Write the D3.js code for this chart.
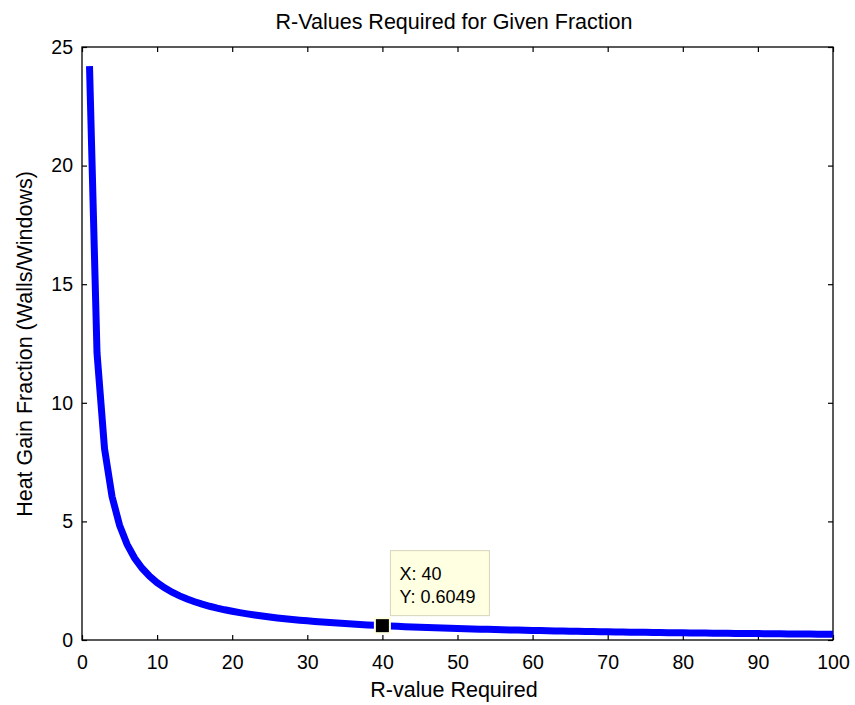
<!DOCTYPE html>
<html>
<head>
<meta charset="utf-8">
<script src="https://cdn.jsdelivr.net/npm/d3@7"></script>
<style>
  html, body { margin: 0; padding: 0; background: #fff; }
  svg text { font-family: "Liberation Sans", Arial, sans-serif; fill: #000; }
</style>
</head>
<body>
<svg id="chart" width="855" height="705"></svg>
<script>
// R-value required (x) and heat gain fraction (y)
const rValues = d3.range(1, 101);
const heatGainFraction = [
  24.196, 12.098, 8.065, 6.049, 4.839, 4.033, 3.457, 3.025, 2.688, 2.420,
  2.200, 2.016, 1.861, 1.728, 1.613, 1.512, 1.423, 1.344, 1.273, 1.210,
  1.152, 1.100, 1.052, 1.008, 0.968, 0.931, 0.896, 0.864, 0.834, 0.807,
  0.781, 0.756, 0.733, 0.712, 0.691, 0.672, 0.654, 0.637, 0.620, 0.6049,
  0.590, 0.576, 0.563, 0.550, 0.538, 0.526, 0.515, 0.504, 0.494, 0.484,
  0.474, 0.465, 0.457, 0.448, 0.440, 0.432, 0.424, 0.417, 0.410, 0.403,
  0.397, 0.390, 0.384, 0.378, 0.372, 0.367, 0.361, 0.356, 0.351, 0.346,
  0.341, 0.336, 0.331, 0.327, 0.323, 0.318, 0.314, 0.310, 0.306, 0.302,
  0.299, 0.295, 0.292, 0.288, 0.285, 0.281, 0.278, 0.275, 0.272, 0.269,
  0.266, 0.263, 0.260, 0.257, 0.255, 0.252, 0.249, 0.247, 0.244, 0.242
];
const xTicks = [0, 10, 20, 30, 40, 50, 60, 70, 80, 90, 100];
const yTicks = [0, 5, 10, 15, 20, 25];
const datatip = { x: 40, y: 0.6049 };

const titleText = "R-Values Required for Given Fraction";
const xLabelText = "R-value Required";
const yLabelText = "Heat Gain Fraction (Walls/Windows)";

const svg = d3.select("#chart");
const plotLeft = 82, plotRight = 833, plotTop = 47, plotBottom = 640;

const x = d3.scaleLinear().domain([0, 100]).range([plotLeft, plotRight]);
const y = d3.scaleLinear().domain([0, 25]).range([plotBottom, plotTop]);

const tickLen = 5;
const tickFont = 19.5;
const labelFont = 21.5;
const fontFamily = '"Liberation Sans", Arial, sans-serif';

// plot frame
svg.append("rect")
  .attr("x", plotLeft).attr("y", plotTop)
  .attr("width", plotRight - plotLeft).attr("height", plotBottom - plotTop)
  .attr("fill", "#fff").attr("stroke", "#000").attr("stroke-width", 1.3);

// bottom / left axes with inward ticks
const gx = svg.append("g").attr("transform", `translate(0,${plotBottom})`)
  .call(d3.axisBottom(x).tickValues(xTicks).tickSizeInner(-tickLen).tickSizeOuter(0).tickPadding(15));
gx.select(".domain").remove();
gx.selectAll("text").attr("font-size", tickFont).style("font-family", fontFamily);

const gy = svg.append("g").attr("transform", `translate(${plotLeft},0)`)
  .call(d3.axisLeft(y).tickValues(yTicks).tickSizeInner(-tickLen).tickSizeOuter(0).tickPadding(9));
gy.select(".domain").remove();
gy.selectAll("text").attr("font-size", tickFont).style("font-family", fontFamily);

// mirrored ticks on top / right
const gxTop = svg.append("g").attr("transform", `translate(0,${plotTop})`)
  .call(d3.axisTop(x).tickValues(xTicks).tickSizeInner(-tickLen).tickSizeOuter(0).tickFormat(""));
gxTop.select(".domain").remove();
const gyRight = svg.append("g").attr("transform", `translate(${plotRight},0)`)
  .call(d3.axisRight(y).tickValues(yTicks).tickSizeInner(-tickLen).tickSizeOuter(0).tickFormat(""));
gyRight.select(".domain").remove();

svg.selectAll(".tick line").attr("stroke", "#000").attr("stroke-width", 1.2);

// curve
const line = d3.line()
  .x((d, i) => x(rValues[i]))
  .y(d => y(d));
svg.append("path")
  .datum(heatGainFraction)
  .attr("d", line)
  .attr("fill", "none")
  .attr("stroke", "#0000ff")
  .attr("stroke-width", 7)
  .attr("stroke-linejoin", "miter");

// data tip
const mx = x(datatip.x), my = y(datatip.y);
const tip = svg.append("g");
tip.append("rect")
  .attr("x", mx + 8).attr("y", my - 75)
  .attr("width", 99).attr("height", 65)
  .attr("fill", "#ffffe1").attr("stroke", "#d8d4bc").attr("stroke-width", 1);
tip.append("text").attr("x", mx + 17).attr("y", my - 46)
  .attr("font-size", 18).text(`X: ${datatip.x}`);
tip.append("text").attr("x", mx + 17).attr("y", my - 23)
  .attr("font-size", 18).text(`Y: ${datatip.y}`);
tip.append("rect")
  .attr("x", mx - 8.5).attr("y", my - 8.5)
  .attr("width", 17).attr("height", 17)
  .attr("fill", "#ffffe1");
tip.append("rect")
  .attr("x", mx - 6.5).attr("y", my - 6.5)
  .attr("width", 13).attr("height", 13)
  .attr("fill", "#000");

// title and axis labels
svg.append("text").attr("x", 454).attr("y", 29)
  .attr("text-anchor", "middle").attr("font-size", labelFont).text(titleText);
svg.append("text").attr("x", 454).attr("y", 697)
  .attr("text-anchor", "middle").attr("font-size", labelFont).text(xLabelText);
svg.append("text")
  .attr("transform", `translate(32,344) rotate(-90)`)
  .attr("text-anchor", "middle").attr("font-size", labelFont).text(yLabelText);
</script>
</body>
</html>
